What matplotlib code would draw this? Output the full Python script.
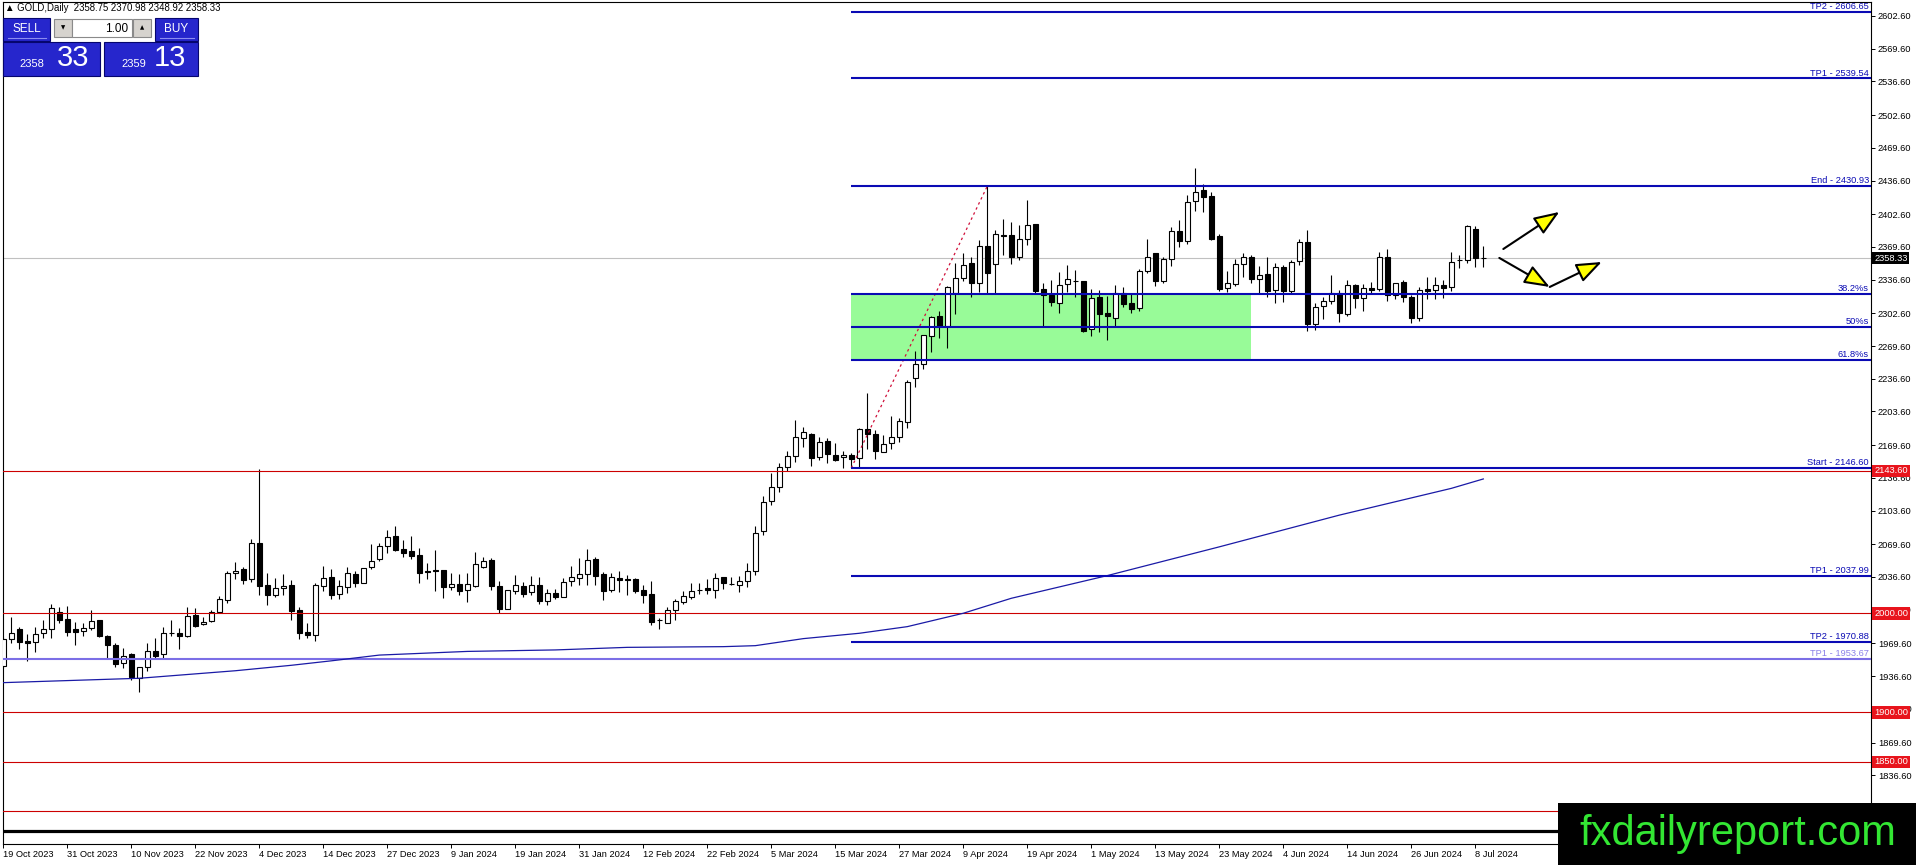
import matplotlib
matplotlib.use('Agg')
import matplotlib.pyplot as plt
import matplotlib.transforms as mtransforms
from matplotlib.patches import Rectangle
import numpy as np

plt.rcParams['font.family'] = ['Liberation Sans', 'DejaVu Sans']
plt.rcParams['font.size'] = 6.7

# GOLD daily bars, 19 Oct 2023 .. 9 Jul 2024
opens = [1946.8, 1973.7, 1983.8, 1972.0, 1970.7, 1979.8, 1984.1, 2001.3, 1994.2, 1984.1,
         1982.1, 1984.8, 1993.2, 1977.1, 1967.7, 1949.5, 1958.9, 1935.0, 1945.5, 1961.6,
         1958.6, 1980.2, 1979.8, 1976.7, 1997.9, 1988.8, 1991.9, 2001.0, 2013.7, 2040.6,
         2044.3, 2034.2, 2070.6, 2028.2, 2018.8, 2025.2, 2028.2, 2003.3, 1980.8, 1978.4,
         2027.5, 2036.3, 2019.1, 2026.2, 2039.3, 2030.9, 2046.4, 2055.0, 2067.9, 2078.0,
         2064.5, 2062.5, 2058.8, 2042.3, 2043.7, 2043.7, 2026.9, 2029.5, 2023.5, 2027.5,
         2047.0, 2053.8, 2027.5, 2004.7, 2022.8, 2027.5, 2021.2, 2028.2, 2012.7, 2020.1,
         2016.8, 2032.2, 2035.9, 2039.3, 2055.1, 2039.6, 2023.5, 2035.3, 2034.3, 2034.9,
         2023.2, 2019.1, 1993.0, 1990.5, 2003.0, 2011.7, 2016.8, 2023.9, 2025.5, 2023.2,
         2036.3, 2029.8, 2028.9, 2032.9, 2043.0, 2083.4, 2113.6, 2127.1, 2147.9, 2158.7,
         2176.5, 2180.9, 2158.1, 2173.5, 2160.1, 2157.4, 2159.4, 2157.1, 2185.6, 2180.9,
         2162.4, 2171.5, 2177.6, 2193.4, 2237.7, 2251.2, 2279.7, 2299.9, 2290.2, 2322.8,
         2337.9, 2353.1, 2332.9, 2370.9, 2352.0, 2381.6, 2381.3, 2359.8, 2377.9, 2392.7,
         2326.8, 2321.4, 2313.4, 2331.9, 2335.2, 2334.9, 2286.5, 2319.4, 2302.9, 2297.5,
         2323.5, 2312.7, 2308.3, 2345.6, 2363.1, 2335.6, 2357.1, 2385.7, 2375.2, 2416.3,
         2427.0, 2421.0, 2380.6, 2327.8, 2331.9, 2352.4, 2359.8, 2336.9, 2341.9, 2326.1,
         2349.7, 2325.5, 2355.1, 2374.9, 2291.8, 2310.0, 2315.4, 2323.5, 2301.9, 2330.9,
         2318.1, 2328.2, 2327.5, 2359.1, 2321.1, 2333.9, 2318.7, 2297.5, 2327.5, 2326.1,
         2330.8, 2328.8, 2356.4, 2356.4, 2387.4, 2358.75]
highs = [1976.4, 1995.9, 1985.8, 1979.1, 1986.5, 1993.2, 2009.0, 2006.0, 2007.3, 1990.9,
         1989.9, 2003.3, 1993.2, 1977.8, 1970.4, 1964.6, 1959.6, 1946.1, 1969.7, 1975.1,
         1986.5, 1993.2, 1984.8, 2006.7, 2005.0, 1995.9, 2003.3, 2017.4, 2043.0, 2052.1,
         2047.0, 2074.6, 2146.0, 2041.0, 2035.3, 2039.6, 2033.6, 2006.7, 1989.9, 2030.2,
         2047.7, 2044.3, 2033.6, 2046.4, 2042.7, 2045.3, 2069.9, 2070.6, 2084.0, 2088.1,
         2073.9, 2078.0, 2066.2, 2050.4, 2063.8, 2043.7, 2040.3, 2039.6, 2040.3, 2062.2,
         2057.1, 2056.1, 2032.6, 2023.5, 2038.6, 2031.9, 2037.6, 2036.3, 2024.8, 2024.8,
         2035.9, 2047.7, 2055.4, 2064.5, 2057.1, 2041.6, 2040.3, 2043.0, 2038.6, 2035.9,
         2028.5, 2032.9, 1994.9, 2006.7, 2014.1, 2022.2, 2030.2, 2030.2, 2034.2, 2040.3,
         2036.3, 2036.9, 2037.6, 2050.4, 2088.1, 2118.7, 2141.2, 2151.3, 2164.1, 2195.0,
         2188.3, 2181.6, 2178.2, 2176.5, 2171.5, 2163.4, 2162.1, 2186.6, 2221.9, 2185.0,
         2179.9, 2199.1, 2196.7, 2235.4, 2264.6, 2280.4, 2299.9, 2304.6, 2330.2, 2353.1,
         2363.8, 2359.1, 2376.6, 2430.93, 2386.7, 2397.4, 2394.7, 2391.7, 2416.9, 2392.7,
         2333.5, 2336.2, 2344.3, 2351.0, 2346.3, 2334.9, 2326.8, 2326.1, 2320.1, 2331.2,
         2329.5, 2322.8, 2347.0, 2377.9, 2363.1, 2359.8, 2390.0, 2396.8, 2422.0, 2449.2,
         2433.1, 2425.3, 2382.6, 2345.6, 2357.8, 2363.1, 2361.5, 2350.4, 2359.1, 2353.7,
         2351.4, 2356.4, 2377.3, 2386.7, 2313.4, 2319.4, 2341.3, 2326.1, 2336.2, 2332.2,
         2332.2, 2334.5, 2364.5, 2367.2, 2333.5, 2336.2, 2321.1, 2329.5, 2339.6, 2338.9,
         2336.2, 2364.5, 2361.5, 2392.1, 2390.7, 2370.98]
lows = [1944.5, 1970.4, 1963.6, 1952.2, 1961.3, 1974.7, 1975.4, 1989.9, 1977.4, 1968.3,
        1977.4, 1983.1, 1976.4, 1954.5, 1946.1, 1944.5, 1932.7, 1920.2, 1942.1, 1955.2,
        1955.2, 1977.1, 1964.3, 1976.4, 1986.5, 1987.8, 1991.2, 1999.9, 2010.7, 2034.2,
        2029.5, 2031.6, 2018.4, 2008.4, 2016.1, 2018.4, 1993.2, 1974.4, 1974.7, 1972.4,
        2022.5, 2014.7, 2014.4, 2020.8, 2026.2, 2030.2, 2044.3, 2053.1, 2060.5, 2063.2,
        2057.1, 2054.8, 2030.2, 2034.6, 2022.8, 2015.8, 2023.5, 2018.4, 2011.7, 2026.9,
        2045.3, 2023.5, 2000.0, 2004.7, 2019.5, 2016.1, 2018.4, 2009.4, 2008.7, 2014.4,
        2016.1, 2027.5, 2028.5, 2028.5, 2028.5, 2013.4, 2021.8, 2021.8, 2018.4, 2020.1,
        2010.7, 1988.2, 1983.8, 1989.9, 1993.2, 2009.4, 2014.1, 2019.5, 2019.5, 2015.1,
        2024.2, 2028.2, 2021.8, 2026.9, 2038.3, 2078.7, 2109.6, 2122.7, 2143.9, 2153.0,
        2168.1, 2148.6, 2154.7, 2152.0, 2153.7, 2146.9, 2146.6, 2147.3, 2165.4, 2156.0,
        2162.4, 2165.8, 2172.5, 2186.6, 2227.9, 2246.1, 2263.9, 2278.1, 2267.3, 2301.6,
        2335.6, 2318.7, 2324.5, 2322.8, 2322.8, 2361.5, 2352.4, 2356.4, 2371.5, 2323.5,
        2289.2, 2310.0, 2303.3, 2324.5, 2318.7, 2284.1, 2279.7, 2284.1, 2275.7, 2289.2,
        2308.7, 2302.6, 2305.3, 2342.9, 2330.2, 2333.5, 2350.4, 2369.2, 2372.5, 2406.2,
        2405.2, 2376.6, 2325.5, 2324.5, 2330.2, 2339.0, 2333.5, 2323.5, 2319.4, 2313.4,
        2314.4, 2323.5, 2351.4, 2285.1, 2285.8, 2296.6, 2312.0, 2294.2, 2299.9, 2308.3,
        2305.3, 2322.8, 2325.5, 2315.4, 2316.7, 2314.4, 2292.5, 2295.2, 2317.4, 2317.4,
        2317.7, 2325.5, 2348.0, 2353.1, 2349.0, 2348.92]
closes = [1973.7, 1980.4, 1971.4, 1969.7, 1978.8, 1984.1, 2005.0, 1993.6, 1981.4, 1980.8,
          1984.8, 1991.9, 1976.7, 1968.3, 1949.2, 1957.2, 1936.0, 1945.5, 1961.6, 1957.2,
          1979.8, 1979.6, 1977.4, 1996.9, 1987.5, 1990.9, 2001.0, 2014.1, 2040.3, 2043.0,
          2033.9, 2070.6, 2027.9, 2018.8, 2025.2, 2027.2, 2002.6, 1980.4, 1978.4, 2028.2,
          2035.3, 2018.8, 2027.2, 2040.3, 2030.2, 2045.3, 2052.4, 2067.9, 2076.6, 2063.8,
          2061.2, 2058.1, 2041.0, 2042.0, 2043.0, 2026.9, 2029.5, 2022.8, 2029.5, 2049.7,
          2053.1, 2027.5, 2004.0, 2023.5, 2028.9, 2019.5, 2028.2, 2012.7, 2020.8, 2016.8,
          2031.6, 2036.3, 2039.6, 2053.8, 2037.9, 2022.8, 2036.3, 2033.6, 2034.0, 2022.8,
          2018.8, 1991.5, 1993.2, 2003.3, 2012.7, 2017.4, 2022.5, 2023.7, 2023.2, 2035.3,
          2030.2, 2029.5, 2032.9, 2043.0, 2081.4, 2112.6, 2127.1, 2147.3, 2159.1, 2178.2,
          2182.6, 2157.1, 2172.5, 2160.4, 2154.7, 2159.4, 2156.0, 2185.6, 2180.9, 2164.1,
          2170.5, 2178.2, 2194.0, 2233.3, 2251.2, 2280.4, 2299.2, 2289.8, 2328.8, 2337.9,
          2351.4, 2332.9, 2370.9, 2343.0, 2382.3, 2381.0, 2359.8, 2377.9, 2391.4, 2325.5,
          2320.8, 2314.4, 2330.8, 2336.9, 2334.9, 2284.6, 2317.7, 2302.3, 2300.2, 2322.8,
          2312.0, 2307.0, 2345.3, 2359.1, 2335.6, 2357.8, 2385.7, 2375.2, 2414.6, 2424.7,
          2419.6, 2377.3, 2326.8, 2332.9, 2352.0, 2359.8, 2336.9, 2341.6, 2325.5, 2349.7,
          2325.5, 2354.1, 2374.9, 2291.8, 2309.3, 2315.4, 2323.5, 2302.6, 2331.5, 2317.7,
          2328.5, 2326.5, 2359.1, 2321.1, 2333.5, 2318.7, 2297.5, 2326.1, 2325.5, 2330.8,
          2328.5, 2354.7, 2356.6, 2390.7, 2358.1, 2358.33]

date_labels = ['19 Oct 2023', '31 Oct 2023', '10 Nov 2023', '22 Nov 2023', '4 Dec 2023',
               '14 Dec 2023', '27 Dec 2023', '9 Jan 2024', '19 Jan 2024', '31 Jan 2024',
               '12 Feb 2024', '22 Feb 2024', '5 Mar 2024', '15 Mar 2024', '27 Mar 2024',
               '9 Apr 2024', '19 Apr 2024', '1 May 2024', '13 May 2024', '23 May 2024',
               '4 Jun 2024', '14 Jun 2024', '26 Jun 2024', '8 Jul 2024']
bars_per_label = 8

# moving average, sampled off the chart
ma_bars = [0, 17, 29, 36, 41, 47, 58, 69, 78, 90, 94, 100, 107, 113, 120, 126, 138, 152, 167, 181, 185]
ma_vals = [1930.0, 1934.4, 1942.0, 1947.5, 1952.0, 1957.8, 1961.5, 1963.0, 1965.6, 1966.3, 1967.3,
           1974.4, 1979.8, 1986.5, 2000.0, 2015.1, 2038.0, 2067.0, 2099.0, 2126.0, 2135.5]

# fibonacci drawing
fib_start, fib_end = 2146.60, 2430.93
fib_start_bar, fib_end_bar, zone_end_bar = 106, 123, 156
fib_names = ['TP2 - 2606.65', 'TP1 - 2539.54', 'End - 2430.93', '38.2%s', '50%s', '61.8%s',
             'Start - 2146.60', 'TP1 - 2037.99', 'TP2 - 1970.88']
fib_ratios = [1.618, 1.382, 1.0, 0.618, 0.5, 0.382, 0.0, -0.382, -0.618]
old_tp_name, old_tp = 'TP1 - 1953.67', 1953.67

red_levels = [2143.60, 2000.00, 1900.00, 1850.00, 1800.00]
black_level = 1780.0
last_price = 2358.33
header = '\u25b2 GOLD,Daily  2358.75 2370.98 2348.92 2358.33'

price_ticks = [2602.6, 2569.6, 2536.6, 2502.6, 2469.6, 2436.6, 2402.6, 2369.6, 2336.6, 2302.6,
               2269.6, 2236.6, 2203.6, 2169.6, 2136.6, 2103.6, 2069.6, 2036.6, 2003.6, 1969.6,
               1936.6, 1903.6, 1869.6, 1836.6, 1803.6]

# scenario arrows (bar, price)
arrow_up = [(187.5, 2367.5), (194.5, 2404.9)]
arrow_dip = [(187.0, 2358.5), (193.3, 2329.2), (199.8, 2354.4)]

W, H = 1916, 865
fig = plt.figure(figsize=(W / 100, H / 100), dpi=100)
fig.patch.set_facecolor('white')
ax = fig.add_axes([2.7 / W, (H - 844) / H, (1871 - 2.7) / W, (844 - 2) / H])
ax.set_xlim(-0.075, 233.46)
ax.set_ylim(1767.2, 2616.7)

o = np.array(opens); h = np.array(highs); l = np.array(lows); c = np.array(closes)
idx = np.arange(len(o))
up = c >= o
lo = np.minimum(o, c)
hgt = np.abs(c - o)

# green retracement zone
lvl = {r: fib_start + r * (fib_end - fib_start) for r in fib_ratios}
ax.add_patch(Rectangle((fib_start_bar, lvl[0.382]), zone_end_bar - fib_start_bar,
                       lvl[0.618] - lvl[0.382], fc='#98fb98', ec='none', zorder=1))

ax.axhline(last_price, color='#c0c0c0', lw=0.8, zorder=2)

ax.vlines(idx, l, h, color='black', lw=0.8, zorder=3)
ax.bar(idx[up], hgt[up], bottom=lo[up], width=0.6, color='white', edgecolor='black',
       linewidth=0.8, zorder=4)
ax.bar(idx[~up], hgt[~up], bottom=lo[~up], width=0.6, color='black', edgecolor='black',
       linewidth=0.8, zorder=4)

for v in red_levels:
    ax.axhline(v, color='#cc0000', lw=0.8, zorder=5)
ax.axhline(black_level, color='black', lw=2.3, zorder=5)
ax.axhline(old_tp, color='#7b6ee6', lw=1.5, zorder=5)

ax.plot(ma_bars, ma_vals, color='#1a1aa6', lw=0.9, zorder=5)
ax.plot([fib_start_bar, fib_end_bar], [fib_start, fib_end], color='#d0103a', lw=0.9,
        linestyle=(0, (2, 2.5)), zorder=5)

ax.hlines([lvl[r] for r in fib_ratios], fib_start_bar, 300, color='#0a0ab4', lw=1.5, zorder=6)

blend = mtransforms.blended_transform_factory(ax.transAxes, ax.transData)
for name, r in zip(fib_names, fib_ratios):
    ax.annotate(name, xy=(1, lvl[r]), xycoords=blend, xytext=(-1.5, 0.6),
                textcoords='offset points', ha='right', va='bottom', color='#0a0ab4', zorder=7)
ax.annotate(old_tp_name, xy=(1, old_tp), xycoords=blend, xytext=(-1.5, 0.6),
            textcoords='offset points', ha='right', va='bottom', color='#8a80e8', zorder=7)

for pts in (arrow_up, arrow_dip):
    for a, b in zip(pts[:-1], pts[1:]):
        ax.annotate('', xy=b, xytext=a, xycoords='data',
                    arrowprops=dict(arrowstyle='-|>,head_length=1.3,head_width=0.5',
                                    mutation_scale=12, fc='#ffff00', ec='black', lw=1.5,
                                    shrinkA=0, shrinkB=0), zorder=8)

# axes styling
for s in ax.spines.values():
    s.set_color('black'); s.set_linewidth(0.8)
ax.yaxis.tick_right()
ax.set_yticks(price_ticks, [f'{v:.2f}' for v in price_ticks])
ax.tick_params(axis='y', direction='out', length=3, width=0.7, pad=2, labelsize=6.7)
xt = list(range(0, bars_per_label * len(date_labels), bars_per_label))
ax.set_xticks(xt, date_labels, ha='left')
ax.tick_params(axis='x', direction='out', length=3, width=0.7, pad=1.5, labelsize=6.7)

for v in red_levels:
    ax.annotate(f'{v:.2f}', xy=(1, v), xycoords=blend, xytext=(2.2, 0),
                textcoords='offset points', ha='left', va='center', color='white',
                bbox=dict(boxstyle='square,pad=0.2', fc='#e8141c', ec='none'), zorder=9)
ax.annotate(f'{last_price:.2f}', xy=(1, last_price), xycoords=blend, xytext=(2.2, 0),
            textcoords='offset points', ha='left', va='center', color='white',
            bbox=dict(boxstyle='square,pad=0.2', fc='black', ec='none'), zorder=9)

# overlay in pixel coords: header, trade panel, watermark
ov = fig.add_axes([0, 0, 1, 1])
ov.set_xlim(0, W); ov.set_ylim(H, 0); ov.axis('off'); ov.patch.set_alpha(0)

ov.text(5, 8, header, ha='left', va='center', fontsize=6.9, color='black')

blue, edge = '#2626cc', '#06066e'
ov.add_patch(Rectangle((3, 18), 47, 23, fc=blue, ec=edge, lw=0.8))
ov.add_patch(Rectangle((155, 18), 43, 23, fc=blue, ec=edge, lw=0.8))
ov.plot([8, 46], [38, 38], color='#8c8cf0', lw=0.8)
ov.plot([160, 194], [38, 38], color='#8c8cf0', lw=0.8)
ov.text(27, 29.5, 'SELL', color='white', fontsize=8.5, ha='center', va='center')
ov.text(176, 29.5, 'BUY', color='white', fontsize=8.5, ha='center', va='center')
ov.add_patch(Rectangle((54, 19), 18, 18, fc='#d6d3ce', ec='#8a8a8a', lw=0.8))
ov.add_patch(Rectangle((72, 19), 60, 18, fc='white', ec='#8a8a8a', lw=0.8))
ov.add_patch(Rectangle((133, 19), 18, 18, fc='#d6d3ce', ec='#8a8a8a', lw=0.8))
ov.text(63, 28, '\u25bc', fontsize=4, ha='center', va='center', family=['DejaVu Sans'])
ov.text(142, 28, '\u25b2', fontsize=4, ha='center', va='center', family=['DejaVu Sans'])
ov.text(128, 28.5, '1.00', fontsize=8.5, ha='right', va='center')
ov.add_patch(Rectangle((3, 42), 97, 34, fc=blue, ec=edge, lw=0.8))
ov.add_patch(Rectangle((104, 42), 94, 34, fc=blue, ec=edge, lw=0.8))
ov.text(32, 64, '2358', color='white', fontsize=8, ha='center', va='center')
ov.text(73, 58, '33', color='white', fontsize=21, ha='center', va='center')
ov.text(134, 64, '2359', color='white', fontsize=8, ha='center', va='center')
ov.text(170, 58, '13', color='white', fontsize=21, ha='center', va='center')

ov.add_patch(Rectangle((1558, 803), 360, 64, fc='black', ec='none'))
ov.text(1738, 834, 'fxdailyreport.com', color='#33e633', fontsize=30, ha='center', va='center')

fig.savefig('out.png', dpi=100)
